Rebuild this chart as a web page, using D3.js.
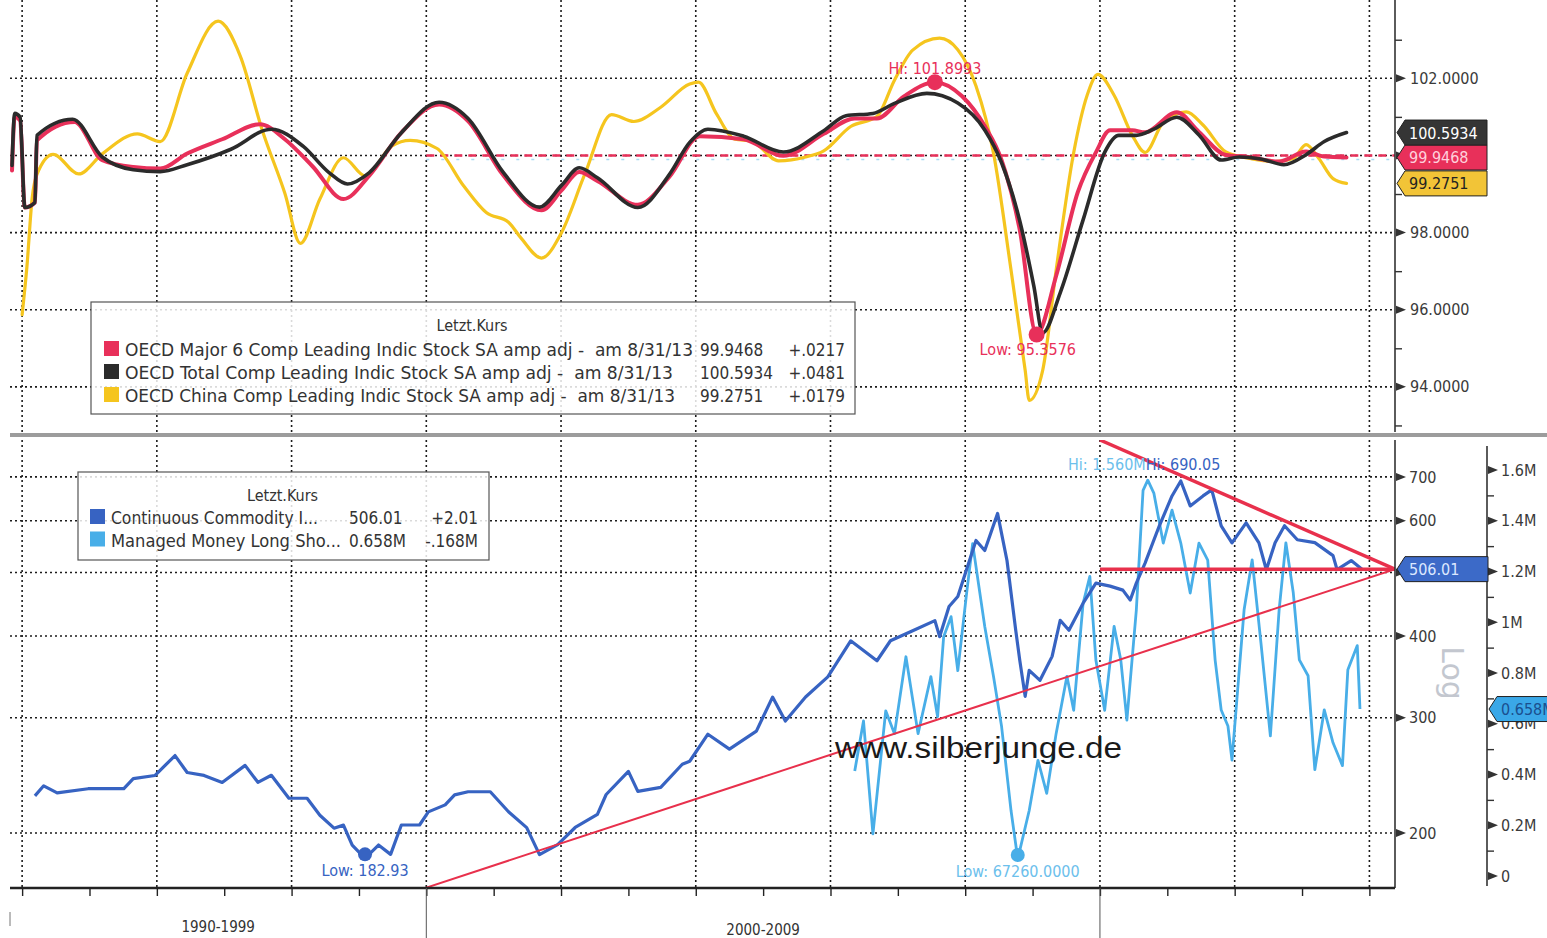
<!DOCTYPE html>
<html>
<head>
<meta charset="utf-8">
<title>OECD CLI vs Commodity Index</title>
<script src="https://cdn.jsdelivr.net/npm/d3@7"></script>
<style>
  body { margin: 0; background: #fff; }
  svg { display: block; }
  text { font-family: 'DejaVu Sans Condensed', 'Liberation Sans Narrow', 'DejaVu Sans', sans-serif; }
</style>
</head>
<body>
<svg id="chart" width="1547" height="938"></svg>
<script>
// ---------- data (year as decimal, value) ----------
const major6 = [[1993.85,99.61],[1993.89,101.0],[1993.97,100.9],[1994.04,98.65],[1994.19,98.78],[1994.22,100.39],[1994.78,100.87],[1995.19,99.88],[1995.65,99.70],[1996.05,99.66],[1996.45,100.05],[1996.97,100.42],[1997.53,100.81],[1997.90,100.42],[1998.31,99.72],[1998.77,98.87],[1999.15,99.47],[1999.63,100.59],[2000.19,101.32],[2000.62,100.89],[2001.14,99.49],[2001.71,98.58],[2002.01,99.10],[2002.27,99.57],[2002.54,99.34],[2003.14,98.72],[2003.61,99.45],[2004.06,100.50],[2004.71,100.42],[2005.30,99.99],[2005.90,100.56],[2006.36,100.96],[2006.69,100.96],[2007.09,101.53],[2007.55,101.8993],[2007.95,101.54],[2008.29,100.76],[2008.54,99.88],[2008.81,98.07],[2009.06,95.3576],[2009.35,96.88],[2009.67,99.04],[2009.94,100.08],[2010.15,100.65],[2010.48,100.65],[2010.67,100.60],[2011.14,101.12],[2011.47,100.61],[2011.87,100.01],[2012.20,99.96],[2012.66,99.84],[2013.06,100.10],[2013.33,99.97],[2013.66,99.9468]]

const total = [[1993.85,99.74],[1993.89,101.09],[1993.97,100.99],[1994.04,98.65],[1994.19,98.78],[1994.22,100.52],[1994.75,100.94],[1995.19,99.96],[1995.65,99.63],[1996.05,99.58],[1996.45,99.76],[1997.10,100.16],[1997.70,100.68],[1998.17,100.24],[1998.56,99.55],[1998.83,99.26],[1999.15,99.55],[1999.63,100.59],[2000.19,101.38],[2000.62,100.96],[2001.14,99.57],[2001.68,98.66],[2002.01,99.23],[2002.27,99.68],[2002.54,99.42],[2003.14,98.65],[2003.61,99.51],[2003.91,100.34],[2004.18,100.68],[2004.71,100.50],[2005.30,100.09],[2005.90,100.64],[2006.23,101.03],[2006.63,101.09],[2006.95,101.35],[2007.43,101.61],[2007.89,101.36],[2008.29,100.66],[2008.54,99.81],[2008.81,98.30],[2009.02,96.60],[2009.15,95.40],[2009.41,96.44],[2009.75,98.33],[2010.07,100.08],[2010.28,100.52],[2010.54,100.52],[2010.80,100.68],[2011.14,100.99],[2011.47,100.53],[2011.80,99.88],[2012.07,99.96],[2012.39,99.91],[2012.73,99.76],[2013.06,100.02],[2013.33,100.36],[2013.66,100.5934]]

const china = [[1994.00,95.87],[1994.07,97.09],[1994.15,98.91],[1994.22,99.51],[1994.46,100.03],[1994.84,99.52],[1995.19,100.04],[1995.71,100.56],[1996.05,100.36],[1996.45,102.13],[1996.91,103.48],[1997.24,102.57],[1997.56,100.68],[1997.90,99.02],[1998.13,97.72],[1998.42,98.87],[1998.77,99.94],[1999.09,99.47],[1999.49,100.25],[1999.76,100.39],[2000.16,100.18],[2000.55,99.22],[2000.89,98.52],[2001.22,98.27],[2001.41,97.85],[2001.71,97.34],[2002.01,98.01],[2002.35,99.50],[2002.75,101.06],[2003.08,100.88],[2003.48,101.25],[2003.91,101.85],[2004.04,101.90],[2004.31,101.07],[2004.58,100.42],[2004.83,100.37],[2005.23,99.86],[2005.63,99.96],[2005.90,100.12],[2006.30,100.75],[2006.69,101.01],[2006.95,101.95],[2007.22,102.73],[2007.62,103.04],[2007.89,102.74],[2008.16,101.80],[2008.42,100.06],[2008.68,97.03],[2008.89,94.43],[2008.95,93.65],[2009.15,94.43],[2009.35,97.03],[2009.61,100.07],[2009.81,101.56],[2009.97,102.10],[2010.21,101.56],[2010.48,100.52],[2010.67,100.08],[2010.94,100.86],[2011.28,101.13],[2011.53,100.79],[2011.87,100.09],[2012.26,99.91],[2012.60,99.84],[2012.87,99.92],[2013.06,100.28],[2013.25,99.92],[2013.46,99.40],[2013.66,99.2751]]

const cci = [[1994.19,227.9],[1994.32,236.1],[1994.52,230.3],[1994.98,233.7],[1995.51,233.7],[1995.65,242.1],[1995.97,244.8],[1996.27,262.6],[1996.45,247.4],[1996.70,244.9],[1996.97,238.9],[1997.31,253.7],[1997.50,239.0],[1997.70,245.0],[1997.96,226.0],[1998.23,226.0],[1998.42,212.9],[1998.63,203.4],[1998.77,205.6],[1998.90,191.7],[1999.09,182.93],[1999.29,191.7],[1999.47,185.5],[1999.63,205.7],[1999.90,205.7],[2000.03,215.4],[2000.28,220.8],[2000.42,228.7],[2000.62,231.2],[2000.95,231.2],[2001.22,215.5],[2001.49,203.8],[2001.68,185.3],[2001.95,192.0],[2002.21,203.9],[2002.54,213.5],[2002.67,229.0],[2003.00,248.4],[2003.14,231.5],[2003.48,234.8],[2003.80,254.7],[2003.91,257.4],[2004.18,283.1],[2004.50,268.6],[2004.90,286.2],[2005.14,322.6],[2005.33,296.6],[2005.63,322.7],[2005.96,346.3],[2006.30,393.2],[2006.69,366.6],[2006.89,393.3],[2007.22,407.5],[2007.55,422.2],[2007.62,399.0],[2007.76,443.6],[2007.89,459.5],[2008.16,559.6],[2008.29,540.3],[2008.48,615.6],[2008.62,521.7],[2008.75,407.9],[2008.81,367.1],[2008.89,323.4],[2008.95,354.4],[2009.11,342.2],[2009.29,372.3],[2009.41,422.7],[2009.54,408.1],[2009.75,448.9],[2009.94,481.6],[2010.15,476.6],[2010.34,470.0],[2010.45,453.8],[2010.54,481.7],[2010.67,516.9],[2010.88,588.9],[2011.07,654.5],[2011.20,690.05],[2011.34,632.0],[2011.53,654.7],[2011.66,668.7],[2011.80,589.2],[2011.96,555.0],[2012.17,595.5],[2012.36,555.1],[2012.47,504.9],[2012.60,555.2],[2012.74,589.5],[2012.93,561.2],[2013.19,555.4],[2013.46,530.7],[2013.52,505.2],[2013.73,521.5],[2013.89,506.01]]

// managed money long/short, millions of contracts
const managedMoney = [[2006.36,0.414],[2006.49,0.611],[2006.63,0.166],[2006.82,0.651],[2006.95,0.561],[2007.12,0.864],[2007.30,0.561],[2007.49,0.786],[2007.59,0.628],[2007.68,0.943],[2007.79,1.022],[2007.89,0.809],[2008.02,1.113],[2008.11,1.310],[2008.29,0.983],[2008.42,0.786],[2008.54,0.589],[2008.68,0.258],[2008.78,0.06726],[2008.95,0.258],[2009.08,0.456],[2009.21,0.326],[2009.35,0.562],[2009.51,0.787],[2009.61,0.653],[2009.75,1.075],[2009.85,1.181],[2009.94,0.850],[2010.07,0.653],[2010.21,0.984],[2010.31,0.850],[2010.40,0.614],[2010.54,1.048],[2010.64,1.52],[2010.71,1.560],[2010.80,1.509],[2010.94,1.312],[2011.07,1.442],[2011.20,1.312],[2011.34,1.115],[2011.47,1.312],[2011.60,1.245],[2011.71,0.851],[2011.80,0.654],[2011.90,0.591],[2011.96,0.457],[2012.14,1.049],[2012.26,1.246],[2012.39,0.919],[2012.53,0.552],[2012.66,1.049],[2012.76,1.313],[2012.87,1.116],[2012.96,0.852],[2013.09,0.789],[2013.19,0.419],[2013.33,0.655],[2013.46,0.525],[2013.60,0.435],[2013.68,0.813],[2013.82,0.908],[2013.86,0.658]]

// trend lines drawn on the commodity index (year, index level)
const supportLine = [[2000.0, 165], [2014.38, 506.01]]
const resistanceLine = [[2010.0, 797], [2014.38, 506.01]]
const floorLine = [[2010.0, 506.01], [2014.38, 506.01]]
const topRefLevel = 100

const topSeriesNames = [
  "OECD Major 6 Comp Leading Indic Stock SA amp adj -  am 8/31/13",
  "OECD Total Comp Leading Indic Stock SA amp adj -  am 8/31/13",
  "OECD China Comp Leading Indic Stock SA amp adj -  am 8/31/13"
]
const topLastValues = [99.9468, 100.5934, 99.2751]
const topChanges = ["+.0217", "+.0481", "+.0179"]
const botSeriesNames = ["Continuous Commodity I...", "Managed Money Long Sho..."]
const botLastText = ["506.01", "0.658M"]
const botChanges = ["+2.01", "-.168M"]

const topExtremes = [{ kind: "Hi", year: 2007.55, value: 101.8993, text: "101.8993" }, { kind: "Low", year: 2009.06, value: 95.3576, text: "95.3576" }]
const cciExtremes = [{ kind: "Hi", year: 2011.20, value: 690.05, text: "690.05" }, { kind: "Low", year: 1999.09, value: 182.93, text: "182.93" }]
const mmExtremes = [{ kind: "Hi", year: 2010.71, value: 1.560, text: "1.560M" }, { kind: "Low", year: 2008.78, value: 0.06726, text: "67260.0000" }]

// labelled ticks (100 and 500 sit under the last-value boxes and are not shown)
const topTicks = [94, 96, 98, 102]
const topGrid = [94, 96, 98, 100, 102]
const topMinor = [93, 95, 97, 99, 101, 103]
const cciTicks = [200, 300, 400, 600, 700]
const cciGrid = [200, 300, 400, 500, 600, 700]
const mmTicks = [0, 0.2, 0.4, 0.6, 0.8, 1.0, 1.2, 1.4, 1.6]
const mmMinor = [0.1, 0.3, 0.5, 0.7, 0.9, 1.1, 1.3, 1.5]
const gridYears = [1994, 1996, 1998, 2000, 2002, 2004, 2006, 2008, 2010, 2012, 2014]
const yearTicks = d3.range(1994, 2015)
const decadeStarts = [1990, 2000, 2010]
const decadeLabels = ["1990-1999", "2000-2009"]

// ---------- geometry / style ----------
const G = { LEFT: 10, AX1: 1395, AX2: 1487, TOP0: 0, TOP1: 432, BOT0: 440, BOT1: 888, RIGHT: 1547 }
const C = {
  red: "#e8305a", black: "#2b2b2b", yellow: "#f5c51e", blue: "#3763c2", sky: "#48aee8",
  trend: "#e8304c", grid: "#1c1c1c", axis: "#333", label: "#3a3a3a"
}

const svg = d3.select("#chart")

const x = d3.scaleLinear().domain([1993.82, 2014.38]).range([G.LEFT, G.AX1])
const yTop = d3.scaleLinear().domain([92.83, 104.03]).range([G.TOP1, G.TOP0])
const yCci = d3.scaleLog().domain([164.8, 797]).range([G.BOT1, G.BOT0])
const yMm = d3.scaleLinear().domain([0, 1.6]).range([876, 470])

const defs = svg.append("defs")
defs.append("clipPath").attr("id", "clipTop").append("rect")
  .attr("x", G.LEFT).attr("y", G.TOP0).attr("width", G.AX1 - G.LEFT).attr("height", G.TOP1 - G.TOP0)
defs.append("clipPath").attr("id", "clipBot").append("rect")
  .attr("x", G.LEFT).attr("y", G.BOT0).attr("width", G.AX1 - G.LEFT).attr("height", G.BOT1 - G.BOT0)

// ---------- grid ----------
const grid = svg.append("g").attr("stroke", C.grid).attr("stroke-width", 1.6).attr("stroke-dasharray", "2,3")
const vSpans = [[G.TOP0, G.TOP1], [G.BOT0, G.BOT1]]
vSpans.forEach(([y0, y1]) => {
  grid.append("g").selectAll("line").data(gridYears).join("line")
    .attr("x1", d => x(d)).attr("x2", d => x(d)).attr("y1", y0).attr("y2", y1)
})
grid.append("g").selectAll("line").data(topGrid).join("line")
  .attr("x1", G.LEFT).attr("x2", G.AX1).attr("y1", d => yTop(d)).attr("y2", d => yTop(d))
grid.append("g").selectAll("line").data(cciGrid).join("line")
  .attr("x1", G.LEFT).attr("x2", G.AX1).attr("y1", d => yCci(d)).attr("y2", d => yCci(d))

// reference line at 100 (from 2000 on)
svg.append("line").attr("x1", x(2000)).attr("x2", G.AX1).attr("y1", yTop(topRefLevel) + 4).attr("y2", yTop(topRefLevel) + 4)
  .attr("stroke", "#a8dcf2").attr("stroke-width", 1.5).attr("stroke-dasharray", "3,12")
svg.append("line").attr("x1", x(2000)).attr("x2", G.AX1).attr("y1", yTop(topRefLevel)).attr("y2", yTop(topRefLevel))
  .attr("stroke", C.red).attr("stroke-width", 2.5).attr("stroke-dasharray", "8,6")

// ---------- top panel lines ----------
const lineTop = d3.line().x(d => x(d[0])).y(d => yTop(d[1])).curve(d3.curveMonotoneX)
const topG = svg.append("g").attr("clip-path", "url(#clipTop)").attr("fill", "none")
  .attr("stroke-linejoin", "round").attr("stroke-linecap", "round")
topG.append("path").datum(china).attr("d", lineTop).attr("stroke", C.yellow).attr("stroke-width", 3.2)
topG.append("path").datum(major6).attr("d", lineTop).attr("stroke", C.red).attr("stroke-width", 4)
topG.append("path").datum(total).attr("d", lineTop).attr("stroke", C.black).attr("stroke-width", 3.6)

// ---------- bottom panel lines ----------
const lineCci = d3.line().x(d => x(d[0])).y(d => yCci(d[1]))
const lineMm = d3.line().x(d => x(d[0])).y(d => yMm(d[1]))
const botG = svg.append("g").attr("clip-path", "url(#clipBot)").attr("fill", "none").attr("stroke-linejoin", "round")
botG.append("path").datum(managedMoney).attr("d", lineMm).attr("stroke", C.sky).attr("stroke-width", 2.8)
botG.append("path").datum(cci).attr("d", lineCci).attr("stroke", C.blue).attr("stroke-width", 3.2)
botG.append("path").datum(supportLine).attr("d", lineCci).attr("stroke", C.trend).attr("stroke-width", 2)
botG.append("path").datum(resistanceLine).attr("d", lineCci).attr("stroke", C.trend).attr("stroke-width", 3.5)
botG.append("path").datum(floorLine).attr("d", lineCci).attr("stroke", C.trend).attr("stroke-width", 3.5)

// ---------- extremes ----------
const ann = svg.append("g").attr("font-size", 16)
topExtremes.forEach(e => {
  const cx = x(e.year), cy = yTop(e.value)
  ann.append("circle").attr("cx", cx).attr("cy", cy).attr("r", 8).attr("fill", C.red)
  const t = ann.append("text").attr("fill", C.red).text(`${e.kind}: ${e.text}`)
  if (e.kind === "Hi") t.attr("x", cx).attr("y", cy - 8).attr("text-anchor", "middle")
  else t.attr("x", cx - 57).attr("y", cy + 20)
})
cciExtremes.forEach(e => {
  const cx = x(e.year), cy = yCci(e.value)
  const t = ann.append("text").attr("fill", C.blue).text(`${e.kind}: ${e.text}`)
  if (e.kind === "Hi") t.attr("x", cx - 35).attr("y", cy - 11)
  else {
    ann.append("circle").attr("cx", cx).attr("cy", cy - 4).attr("r", 7).attr("fill", C.blue)
    t.attr("x", cx).attr("y", cy + 18).attr("text-anchor", "middle")
  }
})
mmExtremes.forEach(e => {
  const cx = x(e.year), cy = yMm(e.value)
  const t = ann.append("text").attr("fill", "#6cc0ec").text(`${e.kind}: ${e.text}`)
  if (e.kind === "Hi") t.attr("x", cx - 2).attr("y", cy - 10).attr("text-anchor", "end")
  else {
    ann.append("circle").attr("cx", cx).attr("cy", cy - 4).attr("r", 7).attr("fill", C.sky)
    t.attr("x", cx).attr("y", cy + 18).attr("text-anchor", "middle")
  }
})

// watermark
svg.append("text").attr("x", 835).attr("y", 758).attr("font-size", 30).attr("fill", "#1a1a1a")
  .style("font-family", "'Liberation Sans', Arial, sans-serif")
  .attr("textLength", 287).attr("lengthAdjust", "spacingAndGlyphs").text("www.silberjunge.de")

// ---------- panel separator ----------
svg.append("rect").attr("x", G.LEFT).attr("y", 433).attr("width", G.RIGHT - G.LEFT).attr("height", 4).attr("fill", "#9c9c9c")

// ---------- axes ----------
function arrowTicks(sel, values, scale, ax) {
  sel.append("g").selectAll("path").data(values).join("path")
    .attr("d", v => `M${ax + 1},${scale(v) - 4}L${ax + 11},${scale(v)}L${ax + 1},${scale(v) + 4}Z`)
    .attr("fill", C.axis)
}
function styleAxis(g) {
  g.select(".domain").remove()
  g.selectAll("text").attr("font-size", 16).attr("fill", C.label)
}
const axes = svg.append("g")
axes.append("line").attr("x1", G.AX1).attr("x2", G.AX1).attr("y1", G.TOP0).attr("y2", G.TOP1).attr("stroke", C.axis).attr("stroke-width", 1.6)
axes.append("line").attr("x1", G.AX1).attr("x2", G.AX1).attr("y1", G.BOT0).attr("y2", G.BOT1).attr("stroke", C.axis).attr("stroke-width", 1.6)
axes.append("line").attr("x1", G.AX2).attr("x2", G.AX2).attr("y1", 446).attr("y2", 886).attr("stroke", C.axis).attr("stroke-width", 1.6)

axes.append("g").attr("transform", `translate(${G.AX1},0)`)
  .call(d3.axisRight(yTop).tickValues(topTicks).tickSize(0).tickPadding(15).tickFormat(d3.format(".4f")))
  .call(styleAxis)
axes.append("g").attr("transform", `translate(${G.AX1},0)`)
  .call(d3.axisRight(yTop).tickValues(topMinor).tickSize(7).tickFormat(""))
  .call(g => g.select(".domain").remove()).selectAll("line").attr("stroke", C.axis).attr("stroke-width", 1.4)
arrowTicks(axes, topGrid, yTop, G.AX1)

axes.append("g").attr("transform", `translate(${G.AX1},0)`)
  .call(d3.axisRight(yCci).tickValues(cciTicks).tickSize(0).tickPadding(14).tickFormat(d3.format("d")))
  .call(styleAxis)
arrowTicks(axes, cciGrid, yCci, G.AX1)

const mmFormat = v => v === 0 ? "0" : (Math.abs(v - 1) < 1e-9 ? "1M" : d3.format(".1f")(v) + "M")
axes.append("g").attr("transform", `translate(${G.AX2},0)`)
  .call(d3.axisRight(yMm).tickValues(mmTicks).tickSize(0).tickPadding(14).tickFormat(mmFormat))
  .call(styleAxis)
axes.append("g").attr("transform", `translate(${G.AX2},0)`)
  .call(d3.axisRight(yMm).tickValues(mmMinor).tickSize(7).tickFormat(""))
  .call(g => g.select(".domain").remove()).selectAll("line").attr("stroke", C.axis).attr("stroke-width", 1.4)
arrowTicks(axes, mmTicks, yMm, G.AX2)

// "Log" marker
svg.append("text").attr("transform", `translate(1442,673) rotate(90)`).attr("text-anchor", "middle")
  .attr("font-size", 30).attr("fill", "#c3c7cf").style("font-family", "'DejaVu Sans', sans-serif").text("Log")

// x axis
axes.append("line").attr("x1", G.LEFT).attr("x2", G.AX1).attr("y1", G.BOT1).attr("y2", G.BOT1).attr("stroke", "#222").attr("stroke-width", 2.5)
axes.append("g").attr("transform", `translate(0,${G.BOT1})`)
  .call(d3.axisBottom(x).tickValues(yearTicks).tickSize(8).tickFormat(""))
  .call(g => g.select(".domain").remove()).selectAll("line").attr("stroke", "#222").attr("stroke-width", 1.4)
axes.append("g").selectAll("line").data(decadeStarts.filter(d => x(d) >= G.LEFT)).join("line")
  .attr("x1", d => x(d)).attr("x2", d => x(d)).attr("y1", G.BOT1).attr("y2", 938)
  .attr("stroke", "#555").attr("stroke-width", 1)
axes.append("line").attr("x1", G.LEFT).attr("x2", G.LEFT).attr("y1", 912).attr("y2", 926).attr("stroke", "#777")
axes.append("g").selectAll("text").data(decadeLabels).join("text")
  .attr("x", (d, i) => (Math.max(x(decadeStarts[i]), G.LEFT) + x(decadeStarts[i + 1])) / 2)
  .attr("y", (d, i) => 932 + i * 3).attr("text-anchor", "middle").attr("font-size", 15).attr("fill", "#333").text(d => d)

// ---------- last value boxes ----------
function valueBox(ax, yc, w, fill, textFill, label) {
  const h = 12.5
  const g = svg.append("g")
  g.append("path").attr("d", `M${ax + 2},${yc}L${ax + 10},${yc - h}L${ax + w},${yc - h}L${ax + w},${yc + h}L${ax + 10},${yc + h}Z`)
    .attr("fill", fill).attr("stroke", "#222").attr("stroke-width", 1)
  g.append("text").attr("x", ax + 14).attr("y", yc + 6).attr("font-size", 16).attr("fill", textFill).text(label)
}
const topBoxStyle = [[C.red, "#ffd0dc"], ["#353535", "#ffffff"], ["#f2c437", "#222"]]
topLastValues.forEach((v, i) => valueBox(G.AX1, yTop(v), 92, topBoxStyle[i][0], topBoxStyle[i][1], d3.format(".4f")(v)))
valueBox(G.AX1, yCci(506.01), 93, "#3c6ac8", "#dce8ff", botLastText[0])
valueBox(G.AX2, yMm(0.658), 70, "#3aa8e8", "#1b4f8f", botLastText[1])

// ---------- legends ----------
function legend(box, title, rows) {
  const g = svg.append("g")
  g.append("rect").attr("x", box.x).attr("y", box.y).attr("width", box.w).attr("height", box.h)
    .attr("fill", "#fff").attr("fill-opacity", 0.84).attr("stroke", "#555").attr("stroke-width", 1.2)
  g.append("text").attr("x", box.x + box.w / 2 + box.titleDx).attr("y", box.y + box.titleDy)
    .attr("text-anchor", "middle").attr("font-size", 16).attr("fill", "#333").text(title)
  rows.forEach((r, i) => {
    const by = box.y + box.row0 + i * box.rowH
    g.append("rect").attr("x", box.x + box.swX).attr("y", by - 15).attr("width", 15).attr("height", 15).attr("fill", r.color)
    g.append("text").attr("x", box.x + box.swX + 21).attr("y", by).attr("font-size", 17).attr("fill", "#333")
      .style("white-space", "pre").attr("textLength", r.nameLen).attr("lengthAdjust", "spacingAndGlyphs").text(r.name)
    g.append("text").attr("x", box.x + box.valX).attr("y", by).attr("font-size", 17).attr("fill", "#333").text(r.value)
    g.append("text").attr("x", box.x + box.chgX).attr("y", by).attr("font-size", 17).attr("fill", "#333")
      .attr("text-anchor", "end").text(r.change)
  })
}
const topColors = [C.red, C.black, C.yellow]
legend({ x: 91, y: 302, w: 764, h: 112, titleDx: -1, titleDy: 29, row0: 54, rowH: 23, swX: 13, valX: 609, chgX: 754 },
  "Letzt.Kurs",
  topSeriesNames.map((n, i) => ({ name: n, color: topColors[i], nameLen: [568, 548, 550][i],
    value: d3.format(".4f")(topLastValues[i]), change: topChanges[i] })))
const botColors = [C.blue, C.sky]
legend({ x: 78, y: 472, w: 411, h: 88, titleDx: -1, titleDy: 29, row0: 52, rowH: 22.5, swX: 12, valX: 271, chgX: 400 },
  "Letzt.Kurs",
  botSeriesNames.map((n, i) => ({ name: n, color: botColors[i], nameLen: [207, 230][i],
    value: botLastText[i], change: botChanges[i] })))
</script>
</body>
</html>
